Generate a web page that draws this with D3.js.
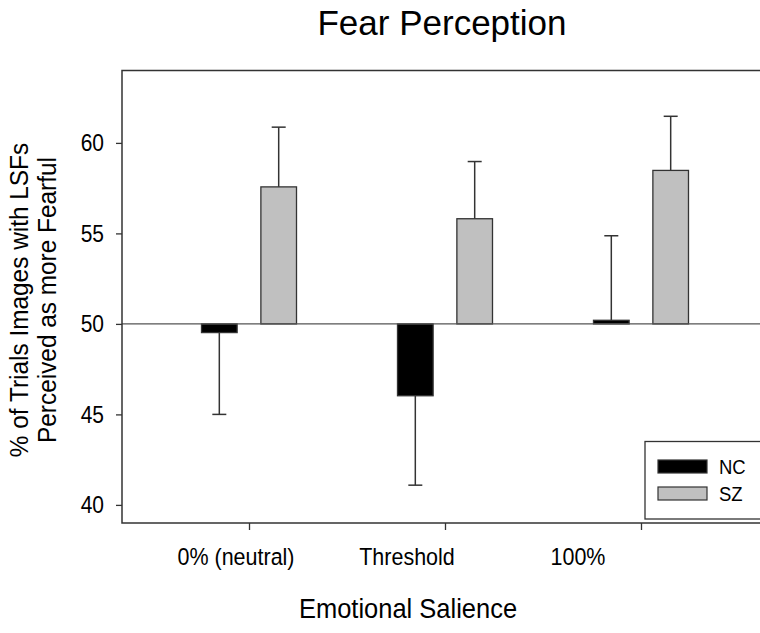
<!DOCTYPE html>
<html>
<head>
<meta charset="utf-8">
<script src="https://cdn.jsdelivr.net/npm/d3@7"></script>
<style>
  body { margin: 0; background: #fff; }
  svg text { font-family: "Liberation Sans", Arial, sans-serif; fill: #000; }
</style>
</head>
<body>
<svg id="chart" width="760" height="633"></svg>
<script>
var categories = ['0% (neutral)', 'Threshold', '100%'];
var groups = ['NC', 'SZ'];
var ncMeans = [49.52, 46.03, 50.2];
var ncErrs = [4.52, 4.94, 4.67];
var szMeans = [57.57, 55.81, 58.48];
var szErrs = [3.3, 3.16, 2.99];
var yTicks = [40, 45, 50, 55, 60];
var baseline = 50;

var colors = {NC: '#000000', SZ: '#c0c0c0'};
var axisColor = '#333333';

var svg = d3.select('#chart');
var plotLeft = 122, plotRight = 768, plotTop = 70.5, plotBottom = 523;

var x = d3.scalePoint()
  .domain(categories)
  .range([plotLeft, plotRight])
  .padding(0.648);

// labels in the source sit left of their ticks
var xLabel = d3.scalePoint()
  .domain(categories)
  .range([236, 578]);

var sub = d3.scaleBand()
  .domain(groups)
  .range([-47.5, 47.5])
  .paddingInner(0.4);

var y = d3.scaleLinear()
  .domain([39, 64])
  .range([plotBottom, plotTop]);

var flat = d3.merge(categories.map(function(c, i) {
  return [
    {cat: c, group: 'NC', mean: ncMeans[i], err: ncErrs[i]},
    {cat: c, group: 'SZ', mean: szMeans[i], err: szErrs[i]}
  ];
}));

// error bars (one-sided, away from the 50 baseline)
var eb = svg.append('g').attr('stroke', axisColor).attr('stroke-width', 1.5);
flat.forEach(function(d) {
  var cx = x(d.cat) + sub(d.group) + sub.bandwidth() / 2;
  var end = d.mean >= baseline ? d.mean + d.err : d.mean - d.err;
  eb.append('line')
    .attr('x1', cx).attr('x2', cx)
    .attr('y1', y(d.mean)).attr('y2', y(end));
  eb.append('line')
    .attr('x1', cx - 7).attr('x2', cx + 7)
    .attr('y1', y(end)).attr('y2', y(end));
});

// bars
svg.append('g')
  .selectAll('rect')
  .data(flat)
  .join('rect')
  .attr('x', function(d) { return x(d.cat) + sub(d.group); })
  .attr('width', sub.bandwidth())
  .attr('y', function(d) { return y(Math.max(d.mean, baseline)); })
  .attr('height', function(d) { return Math.abs(y(d.mean) - y(baseline)); })
  .attr('fill', function(d) { return colors[d.group]; })
  .attr('stroke', axisColor)
  .attr('stroke-width', 1.3);

// baseline at 50
svg.append('line')
  .attr('x1', plotLeft).attr('x2', plotRight)
  .attr('y1', y(baseline)).attr('y2', y(baseline))
  .attr('stroke', '#555').attr('stroke-width', 1.3);

// frame: left, bottom, top
svg.append('path')
  .attr('d', 'M' + plotRight + ',' + plotTop + 'H' + plotLeft + 'V' + plotBottom + 'H' + plotRight)
  .attr('fill', 'none')
  .attr('stroke', axisColor)
  .attr('stroke-width', 1.5);

// text in the source is a little taller than wide
function stretch(sel, px, py) {
  sel.attr('transform', 'translate(' + px + ',' + py + ') scale(1,1.12)');
}

// y axis
var yAxis = svg.append('g')
  .attr('transform', 'translate(' + plotLeft + ',0)')
  .call(d3.axisLeft(y).tickValues(yTicks).tickSize(6).tickFormat(''));
yAxis.select('.domain').remove();
yAxis.selectAll('line').attr('stroke', axisColor).attr('stroke-width', 1.3);

svg.append('g')
  .selectAll('text')
  .data(yTicks)
  .join('text')
  .attr('text-anchor', 'end')
  .attr('dy', '0.36em')
  .attr('font-size', 21)
  .each(function(d) { stretch(d3.select(this), 104, y(d)); })
  .text(function(d) { return d; });

// x axis ticks
var xAxis = svg.append('g')
  .attr('transform', 'translate(0,' + plotBottom + ')')
  .call(d3.axisBottom(x).tickSize(7).tickFormat(''));
xAxis.select('.domain').remove();
xAxis.selectAll('line').attr('stroke', axisColor).attr('stroke-width', 1.3);

svg.append('g')
  .selectAll('text')
  .data(categories)
  .join('text')
  .attr('text-anchor', 'middle')
  .attr('font-size', 21.5)
  .each(function(d) { stretch(d3.select(this), xLabel(d), 565); })
  .text(function(d) { return d; });

// titles
svg.append('text')
  .attr('x', 442).attr('y', 35)
  .attr('text-anchor', 'middle')
  .attr('font-size', 35)
  .text('Fear Perception');

stretch(svg.append('text')
  .attr('text-anchor', 'middle')
  .attr('font-size', 25.5)
  .text('Emotional Salience'), 408, 618);

var yt = svg.append('text')
  .attr('transform', 'translate(0,300) rotate(-90) scale(1,1.05)')
  .attr('text-anchor', 'middle')
  .attr('font-size', 24.4);
yt.append('tspan').attr('x', 0).attr('y', 27).text('% of Trials Images with LSFs');
yt.append('tspan').attr('x', 0).attr('y', 53).text('Perceived as more Fearful');

// legend
var lg = svg.append('g');
lg.append('rect')
  .attr('x', 645).attr('y', 441.5)
  .attr('width', 140).attr('height', 77.5)
  .attr('fill', '#fff')
  .attr('stroke', axisColor).attr('stroke-width', 1.3);
groups.forEach(function(g, i) {
  lg.append('rect')
    .attr('x', 658).attr('y', 460 + i * 27)
    .attr('width', 49).attr('height', 13)
    .attr('fill', colors[g])
    .attr('stroke', axisColor).attr('stroke-width', 1.2);
  stretch(lg.append('text')
    .attr('font-size', 18.5)
    .text(g), 719, 474 + i * 27);
});
</script>
</body>
</html>
